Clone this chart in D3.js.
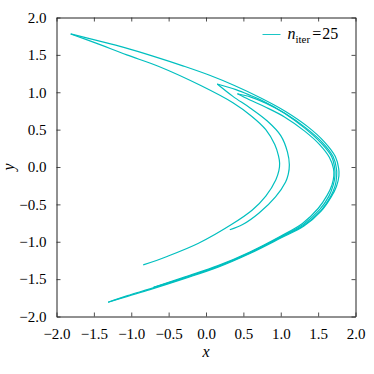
<!DOCTYPE html>
<html lang="en">
<head>
<meta charset="utf-8">
<title>n_iter = 25</title>
<script src="https://d3js.org/d3.v7.min.js"></script>
<style>
  body { margin: 0; background: #fff; }
  text { font-family: 'Liberation Serif', serif; fill: #000; }
</style>
</head>
<body>
<div id="chart"></div>
<script>

// ---- data (x, y pairs, in data units) ----

// inner arc, from its free end up round the nose at x~1 to the top-left tip
var inner1 = [
  [-0.84, -1.31], [-0.53, -1.20], [-0.10, -1.02], [0.34, -0.77], [0.62, -0.575],
  [0.80, -0.39], [0.935, -0.17], [0.975, -0.05], [0.985, 0.05], [0.97, 0.15],
  [0.92, 0.30], [0.80, 0.50], [0.61, 0.68], [0.36, 0.86], [-0.07, 1.09],
  [-0.63, 1.345], [-1.06, 1.50], [-1.48, 1.66], [-1.81, 1.78]
];

// outermost strand: tip -> nose -> lower tail
var outerA = [
  [-1.81, 1.78], [-1.45, 1.69], [-1.10, 1.60], [-0.70, 1.48], [-0.30, 1.35],
  [0.04, 1.23], [0.38, 1.09], [0.74, 0.92], [1.07, 0.74], [1.36, 0.54],
  [1.58, 0.34], [1.73, 0.14], [1.775, -0.02], [1.778, -0.12], [1.745, -0.26],
  [1.675, -0.40], [1.54, -0.59], [1.31, -0.79], [1.00, -0.95], [0.58, -1.16],
  [0.16, -1.34], [-0.28, -1.49], [-0.75, -1.64], [-1.05, -1.73], [-1.31, -1.81]
];

// back from the tail, round the nose, up to the fold near (0.42, 0.98)
var outerB = [
  [-1.31, -1.81], [-1.05, -1.72], [-0.75, -1.63], [-0.28, -1.48], [0.16, -1.33],
  [0.58, -1.15], [1.00, -0.94], [1.31, -0.78], [1.54, -0.58], [1.665, -0.40],
  [1.725, -0.26], [1.748, -0.12], [1.745, -0.02], [1.70, 0.14], [1.555, 0.33],
  [1.34, 0.52], [1.06, 0.715], [0.80, 0.855], [0.60, 0.935], [0.42, 0.98]
];

// from that fold, round the nose again, down to a fold on the lower branch
var outerC = [
  [0.42, 0.98], [0.58, 0.90], [0.80, 0.80], [1.05, 0.67], [1.32, 0.48],
  [1.52, 0.30], [1.65, 0.13], [1.705, -0.02], [1.71, -0.12], [1.685, -0.24],
  [1.62, -0.38], [1.50, -0.555], [1.29, -0.755], [0.99, -0.93], [0.58, -1.14],
  [0.16, -1.32], [-0.28, -1.47], [-0.70, -1.61]
];

// back up to the fold near (0.15, 1.11)
var outerD = [
  [-0.70, -1.61], [-0.27, -1.475], [0.17, -1.325], [0.59, -1.145], [1.00, -0.935],
  [1.30, -0.77], [1.52, -0.57], [1.645, -0.39], [1.70, -0.25], [1.725, -0.12],
  [1.722, -0.02], [1.68, 0.14], [1.53, 0.33], [1.32, 0.52], [1.05, 0.72],
  [0.75, 0.89], [0.59, 0.96], [0.40, 1.035], [0.15, 1.11]
];

// second inner arc, nose at x~1.12, ending free near (0.32, -0.84)
var inner2 = [
  [0.15, 1.11], [0.36, 0.945], [0.59, 0.79], [0.82, 0.615], [1.00, 0.42],
  [1.09, 0.20], [1.115, 0.03], [1.10, -0.10], [1.065, -0.20], [0.93, -0.40],
  [0.71, -0.615], [0.49, -0.77], [0.318, -0.84]
];

var strands = [inner1, outerA, outerB, outerC, outerD, inner2];

var xTicks = [-2.0, -1.5, -1.0, -0.5, 0.0, 0.5, 1.0, 1.5, 2.0];
var yTicks = [-2.0, -1.5, -1.0, -0.5, 0.0, 0.5, 1.0, 1.5, 2.0];
var legendValue = 25;

// ---- layout ----
var margin = {top: 17.5, right: 18.5, bottom: 57.5, left: 56.5},
    width = 374 - margin.left - margin.right,
    height = 374 - margin.top - margin.bottom;

var lineColor = "#00bfbf";
var serif = "'Liberation Serif', serif";

var svg = d3.select("#chart")
  .append("svg")
    .attr("width", 374)
    .attr("height", 374)
  .append("g")
    .attr("transform", "translate(" + margin.left + "," + margin.top + ")");

var x = d3.scaleLinear().domain([-2, 2]).range([0, width]);
var y = d3.scaleLinear().domain([-2, 2]).range([height, 0]);

var fmt = d3.format(".1f");

// the curve itself
var line = d3.line()
  .x(function(d) { return x(d[0]); })
  .y(function(d) { return y(d[1]); })
  .curve(d3.curveCatmullRom.alpha(0.5));

svg.append("g")
  .selectAll("path")
  .data(strands)
  .enter()
  .append("path")
    .attr("d", line)
    .attr("fill", "none")
    .attr("stroke", lineColor)
    .attr("stroke-width", 1.2)
    .attr("stroke-linejoin", "round");

// axes, ticks pointing inwards on all four sides
function styleAxis(g) {
  g.attr("font-family", null);
  g.selectAll(".domain").attr("stroke", "#222").attr("stroke-width", 1);
  g.selectAll(".tick line").attr("stroke", "#222").attr("stroke-width", 0.8);
  g.selectAll("text")
    .style("font-family", serif)
    .style("font-size", "15px")
    .attr("fill", "#000");
}

svg.append("g")
  .attr("transform", "translate(0," + height + ")")
  .call(d3.axisBottom(x).tickValues(xTicks).tickFormat(fmt)
        .tickSizeInner(-4).tickSizeOuter(0).tickPadding(12))
  .call(styleAxis);

svg.append("g")
  .call(d3.axisLeft(y).tickValues(yTicks).tickFormat(fmt)
        .tickSizeInner(-4).tickSizeOuter(0).tickPadding(10))
  .call(styleAxis);

svg.append("g")
  .call(d3.axisTop(x).tickValues(xTicks).tickFormat("")
        .tickSizeInner(-4).tickSizeOuter(0))
  .call(styleAxis);

svg.append("g")
  .attr("transform", "translate(" + width + ",0)")
  .call(d3.axisRight(y).tickValues(yTicks).tickFormat("")
        .tickSizeInner(-4).tickSizeOuter(0))
  .call(styleAxis);

// axis labels
svg.append("text")
  .attr("x", width / 2)
  .attr("y", height + 40)
  .attr("text-anchor", "middle")
  .style("font-family", serif)
  .style("font-size", "16px")
  .style("font-style", "italic")
  .text("x");

svg.append("text")
  .attr("transform", "translate(" + (-43) + "," + (height / 2) + ") rotate(-90)")
  .attr("text-anchor", "middle")
  .style("font-family", serif)
  .style("font-size", "16px")
  .style("font-style", "italic")
  .text("y");

// legend
var leg = svg.append("g").attr("transform", "translate(" + (width - 93) + ",17)");
leg.append("line")
  .attr("x1", 0).attr("x2", 18)
  .attr("y1", 0).attr("y2", 0)
  .attr("stroke", lineColor)
  .attr("stroke-width", 0.9);

var lt = leg.append("text")
  .attr("x", 25)
  .attr("y", 4)
  .style("font-family", serif)
  .style("font-size", "16px");
lt.append("tspan").style("font-style", "italic").text("n");
lt.append("tspan").attr("dy", 4).style("font-size", "11px").text("iter");
lt.append("tspan").attr("dy", -4).attr("dx", 2).text("=");
lt.append("tspan").attr("dx", 1).text(legendValue);

</script>
</body>
</html>
